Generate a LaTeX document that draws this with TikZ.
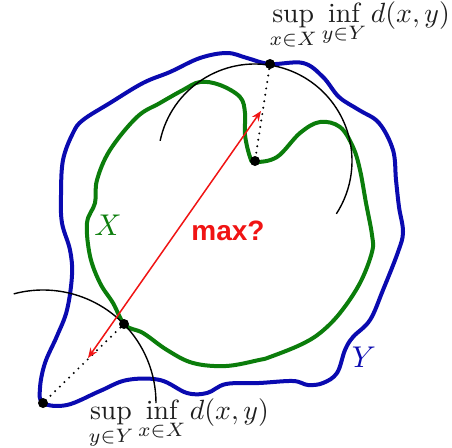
\documentclass[tikz,border=0pt]{standalone}
\usepackage{fontspec}
\newfontfamily\labelsans{Liberation Sans}
\usetikzlibrary{arrows.meta}
\definecolor{SetY}{HTML}{0A0AB0}
\definecolor{SetX}{HTML}{0B7D0B}
\definecolor{Gap}{HTML}{F01414}
\definecolor{Ink}{HTML}{1E1E1E}
\tikzset{
  setY/.style={draw=SetY,line width=4pt,line join=round},
  setX/.style={draw=SetX,line width=4pt,line join=round},
  pt/.style={circle,fill=black,inner sep=0pt,minimum size=10pt},
  ball/.style={draw=black,line width=1.4pt},
  link/.style={draw=black,line width=2.2pt,line cap=round,dash pattern=on 0pt off 6.5pt},
  gap/.style={{Stealth[length=10pt,width=8pt]}-{Stealth[length=10pt,width=8pt]},draw=Gap,line width=1.5pt},
  hd/.style={text=Ink,inner sep=0pt,scale=2.78,transform shape},
  setname/.style={inner sep=0pt,scale=3,transform shape}
}

\begin{document}
\begin{tikzpicture}[x=1pt,y=1pt]
      \useasboundingbox (0,0) rectangle (452,-447);
      % the two sets
      \draw[setY] plot[smooth cycle,tension=0.6] coordinates {
        (43,-403) (40,-388) (45,-363) (57,-336) (67,-310) (72,-275) (70,-250) (62,-223)
        (61,-195) (63,-160) (73,-133) (83,-120) (110,-103) (143,-83) (170,-72) (200,-58)
        (227,-53) (247,-58) (270,-64) (303,-63) (323,-77) (339,-97) (359,-110) (379,-123)
        (393,-150) (396,-180) (399,-207) (403,-232) (398,-252) (383,-290) (370,-320)
        (353,-337) (345,-350) (337,-373) (323,-383) (308,-385) (293,-381) (259,-383)
        (226,-384) (207,-393) (187,-393) (160,-380) (127,-380) (100,-391) (67,-405)};
      \draw[setX] plot[smooth cycle,tension=0.6] coordinates {
        (125,-325) (113,-303) (100,-283) (90,-256) (87,-223) (95,-203) (97,-180) (110,-150)
        (137,-117) (160,-103) (183,-90) (200,-82) (220,-85) (240,-97) (245,-113) (245,-135)
        (250,-157) (255,-162) (277,-157) (300,-133) (320,-122) (340,-127) (353,-147)
        (360,-170) (366,-203) (372,-235) (372,-252) (360,-283) (340,-313) (320,-333)
        (300,-345) (270,-357) (259,-360) (226,-366) (193,-363) (167,-350) (143,-333)};
      \node[setname,text=SetX] (labX) at (108,-225) {$X$};
      \node[setname,text=SetY] (labY) at (364,-357) {$Y$};
      % closest points
      \node[pt] (topY) at (270,-64) {};
      \node[pt] (topX) at (255,-161) {};
      \node[pt] (lowX) at (124,-324) {};
      \node[pt] (lowY) at (43,-403) {};
      \draw[ball] (topX.center) ++(168:97pt) arc[start angle=168,end angle=-33,radius=97pt];
      \draw[ball] (lowY.center) ++(105:113pt) arc[start angle=105,end angle=0,radius=113pt];
      \draw[link] (topY) -- (topX);
      \draw[link] (lowX) -- (lowY);
      % the gap
      \coordinate (gapLow) at (88,-358);
      \coordinate (gapHigh) at (261,-111);
      \draw[gap] (gapLow) -- (gapHigh);
      \node[text=Gap,font=\labelsans\bfseries\fontsize{28}{32}\selectfont,inner sep=0pt] (labMax) at (228,-231) {max?};
      \node[hd,anchor=base west] (supTop) at (269,-22) {$\displaystyle\sup_{x\in X}\inf_{y\in Y} d(x,y)$};
      \node[hd,anchor=base west] (supLow) at (88,-419) {$\displaystyle\sup_{y\in Y}\inf_{x\in X} d(x,y)$};
    \end{tikzpicture}
\end{document}
